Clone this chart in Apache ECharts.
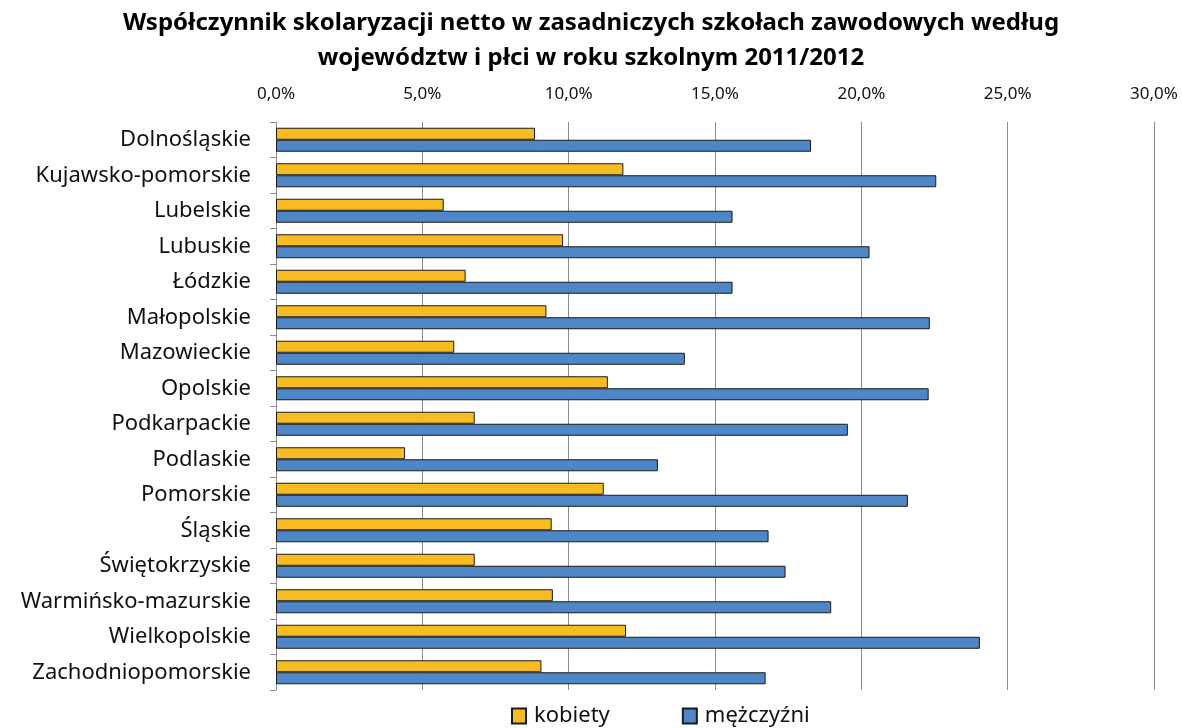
<!DOCTYPE html>
<html>
<head>
<meta charset="utf-8">
<script src="https://cdn.jsdelivr.net/npm/echarts@6/dist/echarts.min.js"></script>
<style>
  html, body { margin: 0; padding: 0; background: #fff; }
  #chart { width: 1182px; height: 728px; }
</style>
</head>
<body>
<div id="chart"></div>
<script>
// województwa, od góry do dołu
const categories = [
  'Dolnośląskie', 'Kujawsko-pomorskie', 'Lubelskie', 'Lubuskie', 'Łódzkie',
  'Małopolskie', 'Mazowieckie', 'Opolskie', 'Podkarpackie', 'Podlaskie',
  'Pomorskie', 'Śląskie', 'Świętokrzyskie', 'Warmińsko-mazurskie',
  'Wielkopolskie', 'Zachodniopomorskie'
];
// współczynnik w %
const kobiety = [8.85, 11.87, 5.73, 9.81, 6.48, 9.24, 6.09, 11.34, 6.79, 4.41, 11.2, 9.42, 6.79, 9.46, 11.96, 9.07];
const mezczyzni = [18.28, 22.56, 15.6, 20.28, 15.6, 22.34, 13.97, 22.3, 19.54, 13.05, 21.59, 16.83, 17.41, 18.97, 24.05, 16.73];
const axisTicks = [0, 5, 10, 15, 20, 25, 30];

const FONT = '"Noto Sans", sans-serif';

const chart = echarts.init(document.getElementById('chart'));

chart.setOption({
  backgroundColor: '#ffffff',
  animation: false,
  title: {
    text: 'Współczynnik skolaryzacji netto w zasadniczych szkołach zawodowych według\nwojewództw i płci w roku szkolnym 2011/2012',
    left: 'center',
    top: 1,
    textStyle: {
      fontFamily: FONT,
      fontSize: 24,
      fontWeight: 'bold',
      color: '#000',
      lineHeight: 35
    }
  },
  legend: {
    bottom: -4,
    left: 506,
    itemWidth: 14,
    itemHeight: 15,
    itemGap: 72,
    icon: 'rect',
    textStyle: { fontFamily: FONT, fontSize: 22, color: '#111', padding: [0, 0, 0, 3] },
    data: ['kobiety', 'mężczyźni']
  },
  grid: {
    left: 276,
    right: 28,
    top: 122,
    bottom: 38
  },
  xAxis: {
    type: 'value',
    position: 'top',
    min: axisTicks[0],
    max: axisTicks[axisTicks.length - 1],
    interval: 5,
    axisLine: { show: false },
    axisTick: { show: false },
    axisLabel: {
      margin: 19,
      fontFamily: FONT,
      fontSize: 17,
      color: '#111',
      formatter: v => v.toFixed(1).replace('.', ',') + '%'
    },
    splitLine: { show: true, lineStyle: { color: '#8c8c8c', width: 1 } }
  },
  yAxis: {
    type: 'category',
    inverse: true,
    data: categories,
    axisLine: { show: true, lineStyle: { color: '#8c8c8c' } },
    axisTick: { show: true, length: 6, lineStyle: { color: '#8c8c8c' } },
    axisLabel: {
      margin: 25,
      fontFamily: FONT,
      fontSize: 22,
      color: '#111'
    }
  },
  series: [
    {
      name: 'kobiety',
      type: 'bar',
      data: kobiety,
      barWidth: 12,
      barGap: '0%',
      itemStyle: { color: '#F6BC22', borderColor: '#1a1a1a', borderWidth: 1 }
    },
    {
      name: 'mężczyźni',
      type: 'bar',
      data: mezczyzni,
      barWidth: 12,
      barGap: '0%',
      itemStyle: { color: '#4F86C6', borderColor: '#1a1a1a', borderWidth: 1 }
    }
  ]
});
</script>
</body>
</html>
